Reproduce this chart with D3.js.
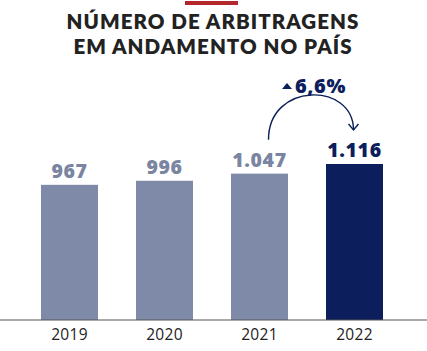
<!DOCTYPE html>
<html><head><meta charset="utf-8">
<script src="https://cdn.jsdelivr.net/npm/d3@7"></script>
<style>body{margin:0;background:#fff}svg{display:block}</style>
</head><body>
<svg id="c" width="427" height="351"></svg>
<script>
const titleLines = ["NÚMERO DE ARBITRAGENS", "EM ANDAMENTO NO PAÍS"];
const categories = ["2019", "2020", "2021", "2022"];
const values = [967, 996, 1047, 1116];
const barColors = ["#7f8aa8", "#7f8aa8", "#7f8aa8", "#0c1e5b"];
const labelColors = ["#7a85a2", "#7a85a2", "#7a85a2", "#0c1e5b"];

const loc = d3.formatLocale({decimal: ",", thousands: ".", grouping: [3], currency: ["R$", ""]});
const fmtN = loc.format(",d");
const fmtP = loc.format(".1f");

const svg = d3.select("#c");
const font = "'Open Sans', sans-serif";

svg.append("rect").attr("x", 185).attr("y", 1).attr("width", 53).attr("height", 4).attr("fill", "#b3272d");

const title = svg.append("text")
  .attr("text-anchor", "middle")
  .attr("font-family", "Lato, sans-serif").attr("font-weight", 800).attr("font-size", 20.5)
  .attr("letter-spacing", 1.05).attr("fill", "#222");
title.selectAll("tspan").data(titleLines).join("tspan")
  .attr("x", 213).attr("y", (d, i) => 28.5 + i * 25).text(d => d);

const x = d3.scaleBand().domain(categories).range([22, 402]).paddingInner(0.4).paddingOuter(0.2);
const y = d3.scaleLinear().domain([0, 1116]).range([320, 164]);

svg.selectAll("rect.bar").data(values).join("rect")
  .attr("x", (d, i) => x(categories[i])).attr("y", d => y(d))
  .attr("width", x.bandwidth()).attr("height", d => y(0) - y(d))
  .attr("fill", (d, i) => barColors[i]);

svg.selectAll("text.val").data(values).join("text")
  .attr("x", (d, i) => x(categories[i]) + x.bandwidth() / 2).attr("y", d => y(d) - 7)
  .attr("text-anchor", "middle")
  .attr("font-family", font).attr("font-weight", 800).attr("font-size", 19.5)
  .attr("letter-spacing", 0.6)
  .attr("fill", (d, i) => labelColors[i]).text(d => fmtN(d));

const axis = d3.axisBottom(x).tickSize(0).tickPadding(9);
const g = svg.append("g").attr("transform", `translate(0,${y(0)})`).call(axis);
g.select(".domain").remove();
g.append("line").attr("x1", 0).attr("x2", 427).attr("stroke", "#555").attr("stroke-width", 1.2);
g.selectAll("text").attr("font-family", font).attr("font-size", 15.5).attr("letter-spacing", 0.3).attr("fill", "#222");

// arrow annotation
const x0 = x(categories[2]) + x.bandwidth() / 2 + 9;
const x1 = x(categories[3]) + x.bandwidth() / 2 - 1;
const yStart = y(values[2]) - 34;
const yEnd = y(values[3]) - 34;
svg.append("path")
  .attr("d", `M${x0},${yStart} C${x0},${yStart - 58} ${x1},${yStart - 58} ${x1},${yEnd}`)
  .attr("fill", "none").attr("stroke", "#0c1e5b").attr("stroke-width", 1.4);
svg.append("path")
  .attr("d", `M${x1 - 5},${yEnd - 6} L${x1},${yEnd} L${x1 + 5},${yEnd - 6}`)
  .attr("fill", "none").attr("stroke", "#0c1e5b").attr("stroke-width", 1.4);

const change = (values[3] / values[2] - 1) * 100;
const cx = (x0 + x1) / 2;
svg.append("path").attr("d", `M${cx - 29},89 L${cx - 24},83 L${cx - 19},89 Z`).attr("fill", "#0c1e5b");
svg.append("text").attr("x", cx - 16).attr("y", 93)
  .attr("font-family", font).attr("font-weight", 800).attr("font-size", 20)
  .attr("letter-spacing", 0.6)
  .attr("fill", "#0c1e5b").text(fmtP(change) + "%");
</script>
</body></html>
